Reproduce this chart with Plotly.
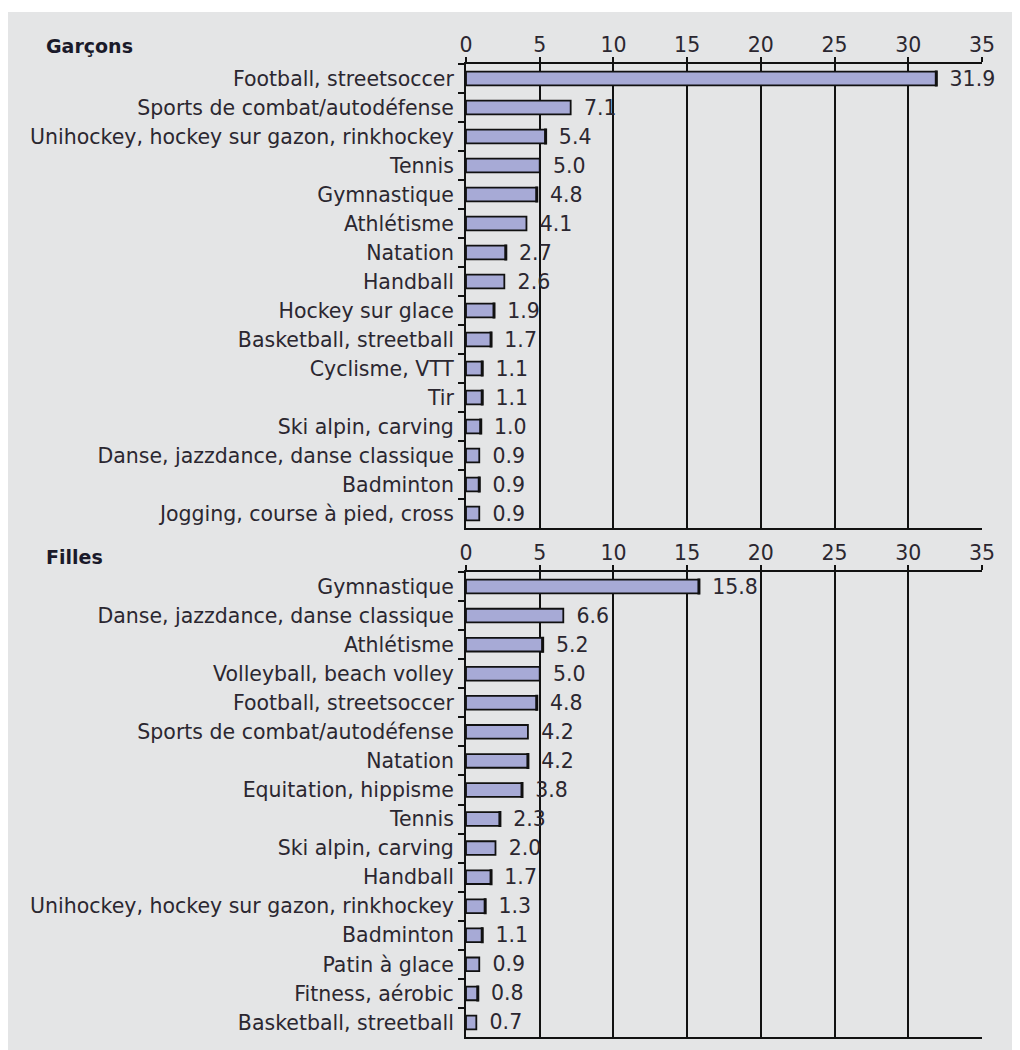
import plotly.graph_objects as go
from plotly.subplots import make_subplots

boys_cats = ["Football, streetsoccer", "Sports de combat/autodéfense",
             "Unihockey, hockey sur gazon, rinkhockey", "Tennis", "Gymnastique",
             "Athlétisme", "Natation", "Handball", "Hockey sur glace",
             "Basketball, streetball", "Cyclisme, VTT", "Tir", "Ski alpin, carving",
             "Danse, jazzdance, danse classique", "Badminton",
             "Jogging, course à pied, cross"]
boys_vals = [31.9, 7.1, 5.4, 5.0, 4.8, 4.1, 2.7, 2.6, 1.9, 1.7, 1.1, 1.1, 1.0, 0.9, 0.9, 0.9]
boys_err = [0.04, 0, 0.04, 0, 0.04, 0, 0.04, 0, 0.04, 0.04, 0.04, 0.04, 0.04, 0, 0.04, 0]

girls_cats = ["Gymnastique", "Danse, jazzdance, danse classique", "Athlétisme",
              "Volleyball, beach volley", "Football, streetsoccer",
              "Sports de combat/autodéfense", "Natation", "Equitation, hippisme",
              "Tennis", "Ski alpin, carving", "Handball",
              "Unihockey, hockey sur gazon, rinkhockey", "Badminton",
              "Patin à glace", "Fitness, aérobic", "Basketball, streetball"]
girls_vals = [15.8, 6.6, 5.2, 5.0, 4.8, 4.2, 4.2, 3.8, 2.3, 2.0, 1.7, 1.3, 1.1, 0.9, 0.8, 0.7]
girls_err = [0.04, 0, 0.04, 0, 0.04, 0, 0.04, 0.04, 0.04, 0, 0.04, 0.04, 0.04, 0, 0.04, 0]

x_ticks = [0, 5, 10, 15, 20, 25, 30, 35]
titles = ["Garçons", "Filles"]

# page body has an 8px margin; figure fills the rest of the 1020x1050 window
OFF = 8
W, H = 1020 - OFF, 1050 - OFF
X0, X1 = 466 - OFF, 982 - OFF      # plot left/right in figure px
Y0, Y1 = 64 - OFF, 1037 - OFF      # plot top/bottom in figure px
ML, MR, MT, MB = X0, W - X1, Y0, H - Y1
PW = W - ML - MR
PH = H - MT - MB

def py(p):  # page px -> paper y
    return (H - MB - (p - OFF)) / PH

def px(p):  # page px -> paper x
    return ((p - OFF) - ML) / PW

fig = make_subplots(rows=2, cols=1, shared_xaxes=False, vertical_spacing=0.0)

BAR = "#a7aad6"
TXT = "#2b2730"
FONT = "DejaVu Sans"
FS = 20.5

domains = [[py(528), py(64)], [py(1037), py(572)]]
panels = [(boys_cats, boys_vals, boys_err), (girls_cats, girls_vals, girls_err)]

for i, (cats, vals, errs) in enumerate(panels, start=1):
    fig.add_trace(go.Bar(
        x=vals, y=cats, orientation="h",
        marker=dict(color=BAR, line=dict(color="#111111", width=1.8)),
        width=0.47,
        text=[f"\u2002{v:.1f}" for v in vals], textposition="outside",
        constraintext="none",
        textfont=dict(family=FONT, size=FS, color=TXT),
        cliponaxis=False, showlegend=False,
    ), row=i, col=1)

for i, (cats, vals, errs) in enumerate(panels, start=1):
    ex = [v for v, e in zip(vals, errs) if e > 0]
    ey = [c for c, e in zip(cats, errs) if e > 0]
    ee = [e for e in errs if e > 0]
    fig.add_trace(go.Scatter(
        x=ex, y=ey, mode="lines", line=dict(width=0, color="rgba(0,0,0,0)"),
        error_x=dict(type="data", array=ee, color="#111111", thickness=1.8, width=8),
        showlegend=False, hoverinfo="skip", cliponaxis=False,
        xaxis="x" if i == 1 else "x2", yaxis=f"y{i + 2}",
    ))
    fig.layout[f"yaxis{i + 2}"] = dict(
        overlaying="y" if i == 1 else "y2", domain=domains[i - 1],
        type="category", categoryorder="array", categoryarray=cats,
        range=[len(cats) - 0.5, -0.5], autorange=False, visible=False,
    )

for i in (1, 2):
    xa = "xaxis" if i == 1 else "xaxis2"
    ya = "yaxis" if i == 1 else "yaxis2"
    fig.layout[xa].update(
        domain=[0, 1], range=[0, 35], side="top", tickvals=x_ticks,
        ticks="outside", ticklen=5, tickwidth=1.5, tickcolor="#111111",
        showgrid=True, gridcolor="#111111", gridwidth=2,
        showline=True, linecolor="#111111", linewidth=2, mirror=True,
        zeroline=False, fixedrange=True, ticklabelstandoff=-3,
        tickfont=dict(family=FONT, size=FS, color=TXT),
    )
    fig.layout[ya].update(
        domain=domains[i - 1], type="category", autorange="reversed",
        tickson="boundaries", ticks="outside", ticklen=6, tickwidth=1.8,
        tickcolor="#111111", showline=True, linecolor="#111111", linewidth=2,
        showgrid=False, ticklabelstandoff=6,
        tickfont=dict(family=FONT, size=FS, color=TXT),
    )

annotations = []
for t, yp in zip(titles, [46, 557]):
    annotations.append(dict(
        text=f"<b>{t}</b>", xref="paper", yref="paper", x=px(44), y=py(yp),
        xanchor="left", yanchor="middle", showarrow=False,
        font=dict(family=FONT, size=19, color="#1a1a2a"),
    ))

shapes = [
    dict(type="rect", xref="paper", yref="paper", x0=px(0), x1=px(1030),
         y0=py(12), y1=py(0), fillcolor="white", line=dict(width=0), layer="above"),
]

fig.update_layout(
    width=W, height=H, margin=dict(l=ML, r=MR, t=MT, b=MB, pad=0),
    paper_bgcolor="#e4e5e6", plot_bgcolor="#e4e5e6",
    bargap=0.5, annotations=annotations, shapes=shapes,
    font=dict(family=FONT, color=TXT),
)

fig.write_html("out.html")
